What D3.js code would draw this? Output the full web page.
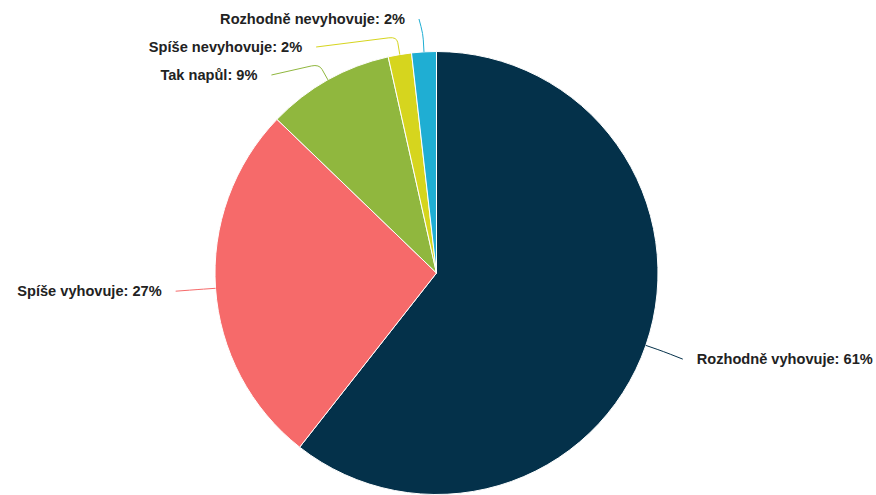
<!DOCTYPE html>
<html>
<head>
<meta charset="utf-8">
<script src="https://cdn.jsdelivr.net/npm/d3@7"></script>
<style>
  html, body { margin: 0; padding: 0; background: #ffffff; }
  svg { display: block; }
</style>
</head>
<body>
<svg id="chart" width="876" height="495"></svg>
<script>
// ---- data ----
const categories = ["Rozhodně vyhovuje", "Spíše vyhovuje", "Tak napůl", "Spíše nevyhovuje", "Rozhodně nevyhovuje"];
const values = [60.6, 26.6, 9.3, 1.7, 1.8];
const colors = ["#04314a", "#f66a6a", "#90b73e", "#d6d51e", "#1faed3"];

// ---- layout ----
const W = 876, H = 495;
const cx = 436.5, cy = 273, r = 221.5;
const labelDist = 42, connDist = 30, bendDist = 18, gapLabel = 14, fontSize = 14.6;

const svg = d3.select("#chart");
const g = svg.append("g").attr("transform", `translate(${cx},${cy})`);

const data = categories.map((c, i) => ({ name: c, value: values[i], color: colors[i] }));
const total = d3.sum(values);
const pie = d3.pie().value(d => d.value).sort(null);
const arcs = pie(data);
const arc = d3.arc().innerRadius(0).outerRadius(r);

g.selectAll("path.slice")
  .data(arcs)
  .join("path")
  .attr("class", "slice")
  .attr("d", arc)
  .attr("fill", d => d.data.color)
  .attr("stroke", "#ffffff")
  .attr("stroke-width", 1)
  .attr("stroke-linejoin", "round");

// label positions (Highcharts-like)
const items = arcs.map(a => {
  const m = (a.startAngle + a.endAngle) / 2;
  const s = Math.sin(m), c = Math.cos(m);
  return {
    a, m, s, c,
    left: s < 0,
    P: [r * s, -r * c],
    B: [(r + bendDist) * s, -(r + bendDist) * c],
    y: -(r + labelDist) * c
  };
});

// collision avoidance per side
const minGap = 28;
const topLimit = -cy + 19;
["left", "right"].forEach(side => {
  const list = items.filter(d => (side === "left") === d.left).sort((p, q) => p.y - q.y);
  let prev = -Infinity;
  list.forEach(d => {
    d.y = Math.max(d.y, topLimit, prev + minGap);
    prev = d.y;
  });
});

const R2 = r + connDist;
items.forEach(d => {
  const dy = d.y;
  const span = Math.sqrt(Math.max(0, R2 * R2 - dy * dy));
  if (d.left) {
    let ex = -span - 10;
    ex = Math.min(ex, d.P[0] - 5);
    d.E = [ex, d.y];
    d.tx = ex - gapLabel;
    d.anchor = "end";
  } else {
    let ex = span + 10;
    ex = Math.max(ex, d.P[0] + 5);
    d.E = [ex, d.y];
    d.tx = ex + gapLabel;
    d.anchor = "start";
  }
});

function connector(d) {
  const [ex, ey] = d.E, [bx, by] = d.B, [px, py] = d.P;
  const unit = (x, y) => { const l = Math.hypot(x, y) || 1; return [x / l, y / l]; };
  const u1 = unit(ex - bx, ey - by), u2 = unit(px - bx, py - by);
  const k1 = Math.min(8, Math.hypot(ex - bx, ey - by) / 2);
  const k2 = Math.min(6, Math.hypot(px - bx, py - by) / 2);
  const c1 = [bx + u1[0] * k1, by + u1[1] * k1];
  const c2 = [bx + u2[0] * k2, by + u2[1] * k2];
  return `M${ex},${ey}L${c1[0]},${c1[1]}Q${bx},${by} ${c2[0]},${c2[1]}L${px},${py}`;
}

g.selectAll("path.conn")
  .data(items)
  .join("path")
  .attr("class", "conn")
  .attr("d", connector)
  .attr("fill", "none")
  .attr("stroke", d => d.a.data.color)
  .attr("stroke-width", 1);

g.selectAll("text.lbl")
  .data(items)
  .join("text")
  .attr("class", "lbl")
  .attr("x", d => d.tx)
  .attr("y", d => d.y + 5)
  .attr("text-anchor", d => d.anchor)
  .attr("font-family", "'Liberation Sans', Arial, Helvetica, sans-serif")
  .attr("font-size", fontSize)
  .attr("font-weight", "bold")
  .attr("fill", "#222222")
  .text(d => `${d.a.data.name}: ${Math.round(d.a.data.value / total * 100)}%`);
</script>
</body>
</html>
